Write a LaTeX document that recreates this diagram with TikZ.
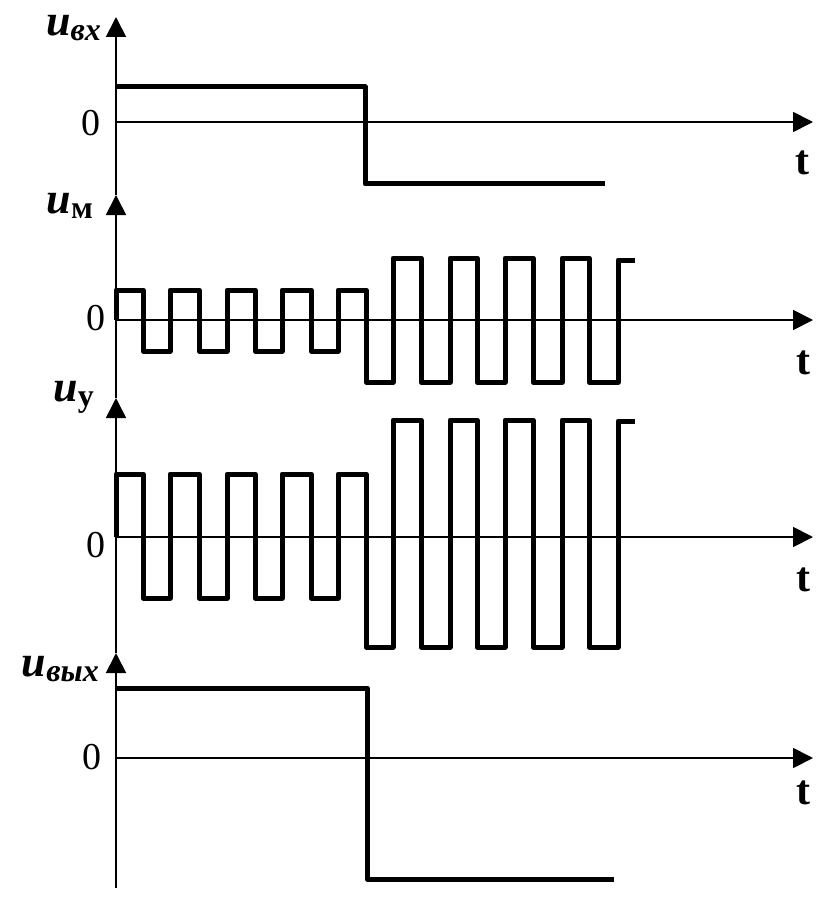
\documentclass[tikz,border=0pt]{standalone}
\usepackage{fontspec}
\setmainfont{Liberation Serif}
\usetikzlibrary{arrows.meta}
\tikzset{
  axisline/.style={line width=1.8pt,-{Triangle[length=20pt,width=20pt]}},
  signal/.style={line width=5pt,line join=round,line cap=butt},
  zerolbl/.style={font=\fontsize{38}{38}\selectfont,inner sep=0pt,anchor=center},
  tlbl/.style={font=\fontsize{42}{42}\selectfont\bfseries,inner sep=0pt,anchor=center},
  ulbl/.style={inner sep=0pt,anchor=base east}
}
\newcommand{\ulab}[1]{{\fontsize{44}{44}\selectfont\bfseries\itshape u}{\fontsize{32}{32}\selectfont\raisebox{-5pt}{#1}}}
\begin{document}
\begin{tikzpicture}[x=1pt,y=-1pt]
\useasboundingbox (0,0) rectangle (836,904);
% vertical axis coordinates
\coordinate (vb) at (116,888);
\coordinate (v4) at (116,653);
\coordinate (v3) at (116,398);
\coordinate (v2) at (116,195);
\coordinate (v1) at (116,17);
\draw[axisline] (vb) -- (v4);
\draw[axisline] (v4) -- (v3);
\draw[axisline] (v3) -- (v2);
\draw[axisline] (v2) -- (v1);
% horizontal axes
\coordinate (h1s) at (116,122); \coordinate (h1e) at (813,122);
\coordinate (h2s) at (116,320); \coordinate (h2e) at (813,320);
\coordinate (h3s) at (116,537); \coordinate (h3e) at (813,537);
\coordinate (h4s) at (116,758); \coordinate (h4e) at (813,758);
\draw[axisline] (h1s) -- (h1e);
\draw[axisline] (h2s) -- (h2e);
\draw[axisline] (h3s) -- (h3e);
\draw[axisline] (h4s) -- (h4e);
% labels
\node[ulbl] (lu1) at (101,36) {\ulab{\bfseries\itshape вх}};
\node[ulbl] (lu2) at (93,213) {\ulab{\bfseries м}};
\node[ulbl] (lu3) at (94,401) {\ulab{\bfseries у}};
\node[ulbl] (lu4) at (99,676) {\ulab{\bfseries\itshape вых}};
\node[zerolbl] (z1) at (91,123) {0};
\node[zerolbl] (z2) at (96,318) {0};
\node[zerolbl] (z3) at (96,545) {0};
\node[zerolbl] (z4) at (92,757) {0};
\node[tlbl] (t1) at (802,163) {t};
\node[tlbl] (t2) at (803,363) {t};
\node[tlbl] (t3) at (803,580) {t};
\node[tlbl] (t4) at (803,793) {t};
% signal 1: input
\draw[signal] (116,87) -- (365,87) -- (365,184) -- (605,184);
% signal 2: modulated
\draw[signal] (116,320) -- (116,290) -- (143,290) -- (143,351) -- (170,351) -- (170,290)
  -- (199,290) -- (199,351) -- (227,351) -- (227,290) -- (255,290) -- (255,351)
  -- (282,351) -- (282,290) -- (311,290) -- (311,351) -- (338,351) -- (338,290)
  -- (366,290) -- (366,382) -- (393,382) -- (393,258) -- (421,258) -- (421,382)
  -- (450,382) -- (450,258) -- (477,258) -- (477,382) -- (505,382) -- (505,258)
  -- (533,258) -- (533,382) -- (562,382) -- (562,258) -- (589,258) -- (589,382)
  -- (618,382) -- (618,260) -- (635,260);
% signal 3: amplified
\draw[signal] (116,537) -- (116,474) -- (143,474) -- (143,598) -- (170,598) -- (170,474)
  -- (199,474) -- (199,598) -- (227,598) -- (227,474) -- (255,474) -- (255,598)
  -- (282,598) -- (282,474) -- (311,474) -- (311,598) -- (338,598) -- (338,474)
  -- (366,474) -- (366,647) -- (393,647) -- (393,420) -- (421,420) -- (421,647)
  -- (450,647) -- (450,420) -- (477,420) -- (477,647) -- (505,647) -- (505,420)
  -- (533,420) -- (533,647) -- (562,647) -- (562,420) -- (589,420) -- (589,647)
  -- (618,647) -- (618,421) -- (635,421);
% signal 4: output
\draw[signal] (116,688) -- (367,688) -- (367,879) -- (614,879);
\end{tikzpicture}
\end{document}
